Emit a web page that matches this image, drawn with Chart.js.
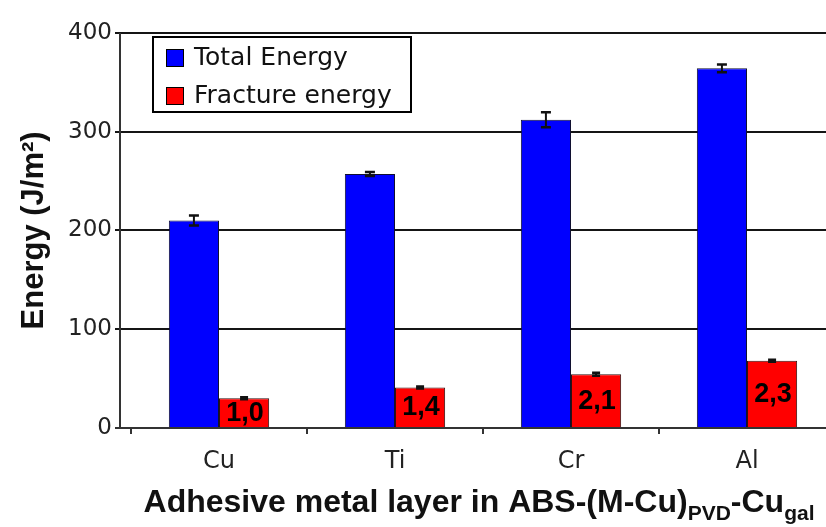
<!DOCTYPE html>
<html>
<head>
<meta charset="utf-8">
<script src="https://cdn.jsdelivr.net/npm/chart.js@4.4.1/dist/chart.umd.min.js"></script>
<style>
  html, body { margin: 0; padding: 0; background: #fff; overflow: hidden; }
  #wrap { position: relative; width: 826px; height: 527px; overflow: hidden; }
  canvas { position: absolute; left: 0; top: 0; }
</style>
</head>
<body>
<div id="wrap"><canvas id="c" width="845" height="527"></canvas></div>
<script>
// Adhesive metal layers and measured energies (J/m²)
const metals = ['Cu', 'Ti', 'Cr', 'Al'];
const totalEnergy = [210, 257, 312, 364];
const totalEnergyErr = [5, 2, 7.5, 4];
const fractureEnergy = [30, 41, 54.5, 68];
const fractureEnergyErr = [1, 1, 1.5, 1];
const fractureRatio = ['1,0', '1,4', '2,1', '2,3'];
const yTicks = [0, 100, 200, 300, 400];

const REG = '"DejaVu Sans", sans-serif';
const BOLD = '"Liberation Sans", Arial, sans-serif';

// gridlines, axis frame, error bars, in-bar labels, legend and x title
const decor = {
  id: 'decor',
  beforeDatasetsDraw(chart) {
    const { ctx, chartArea, scales: { y } } = chart;
    const axisX = chartArea.left - 11;
    ctx.save();
    ctx.lineWidth = 2;
    ctx.strokeStyle = '#151515';
    yTicks.slice(1).forEach(v => {
      const py = Math.round(y.getPixelForValue(v));
      ctx.beginPath();
      ctx.moveTo(axisX - 5, py);
      ctx.lineTo(chart.width, py);
      ctx.stroke();
    });
    ctx.restore();
  },
  afterDatasetsDraw(chart) {
    const { ctx, chartArea, scales: { y } } = chart;
    const axisX = chartArea.left - 11;
    ctx.save();
    // axes
    ctx.lineWidth = 2;
    ctx.strokeStyle = '#333';
    const y0 = Math.round(y.getPixelForValue(0));
    ctx.beginPath();
    ctx.moveTo(axisX - 5, y0);
    ctx.lineTo(chart.width, y0);
    ctx.stroke();
    ctx.beginPath();
    ctx.moveTo(axisX, Math.round(y.getPixelForValue(yTicks[yTicks.length - 1])));
    ctx.lineTo(axisX, y0);
    ctx.stroke();

    // error bars
    chart.data.datasets.forEach((ds, i) => {
      const meta = chart.getDatasetMeta(i);
      const half = i === 0 ? 5 : 4;
      ctx.strokeStyle = '#111';
      meta.data.forEach((el, j) => {
        const v = ds.data[j], e = ds.errors[j];
        const top = y.getPixelForValue(v + e), bot = y.getPixelForValue(v - e);
        ctx.lineWidth = 2;
        ctx.beginPath();
        ctx.moveTo(el.x, top); ctx.lineTo(el.x, bot);
        ctx.stroke();
        ctx.lineWidth = 2.5;
        ctx.beginPath();
        ctx.moveTo(el.x - half, top); ctx.lineTo(el.x + half, top);
        ctx.moveTo(el.x - half, bot); ctx.lineTo(el.x + half, bot);
        ctx.stroke();
      });
      if (ds.valueLabels) {
        ctx.fillStyle = '#000';
        ctx.font = 'bold 27px ' + BOLD;
        ctx.textAlign = 'center';
        ctx.textBaseline = 'middle';
        meta.data.forEach((el, j) => {
          ctx.fillText(ds.valueLabels[j], el.x + 1, (el.y + el.base) / 2);
        });
      }
    });
    ctx.restore();
  },
  afterDraw(chart) {
    const { ctx, chartArea } = chart;
    ctx.save();
    // legend box
    const lx = 153, ly = 37, lw = 258, lh = 75;
    ctx.fillStyle = '#fff';
    ctx.fillRect(lx, ly, lw, lh);
    ctx.lineWidth = 2;
    ctx.strokeStyle = '#000';
    ctx.strokeRect(lx, ly, lw, lh);
    chart.data.datasets.forEach((ds, i) => {
      const sy = ly + 12 + i * 38;
      ctx.fillStyle = ds.backgroundColor;
      ctx.fillRect(lx + 13, sy, 18, 18);
      ctx.lineWidth = 1;
      ctx.strokeStyle = '#000';
      ctx.strokeRect(lx + 13.5, sy + 0.5, 17, 17);
      ctx.fillStyle = '#111';
      ctx.font = '25px ' + REG;
      ctx.textAlign = 'left';
      ctx.textBaseline = 'middle';
      ctx.fillText(ds.label, lx + 41, sy + 9);
    });

    // x axis title with subscripts
    const parts = [
      { t: 'Adhesive metal layer in ABS-(M-Cu)', s: 32, dy: 0 },
      { t: 'PVD', s: 21, dy: 8 },
      { t: '-Cu', s: 32, dy: 0 },
      { t: 'gal', s: 21, dy: 8 }
    ];
    let total = 0;
    parts.forEach(p => { ctx.font = 'bold ' + p.s + 'px ' + BOLD; p.w = ctx.measureText(p.t).width; total += p.w; });
    let x = (chartArea.left + chartArea.right) / 2 - 4 - total / 2;
    const base = 512;
    ctx.fillStyle = '#111';
    ctx.textAlign = 'left';
    ctx.textBaseline = 'alphabetic';
    parts.forEach(p => {
      ctx.font = 'bold ' + p.s + 'px ' + BOLD;
      ctx.fillText(p.t, x, base + p.dy);
      x += p.w;
    });
    ctx.restore();
  }
};

new Chart(document.getElementById('c'), {
  type: 'bar',
  data: {
    labels: metals,
    datasets: [
      {
        label: 'Total Energy',
        data: totalEnergy,
        errors: totalEnergyErr,
        backgroundColor: '#0000ff',
        borderColor: '#101030',
        borderWidth: 1,
        categoryPercentage: 0.57,
        barPercentage: 1
      },
      {
        label: 'Fracture energy',
        data: fractureEnergy,
        errors: fractureEnergyErr,
        valueLabels: fractureRatio,
        backgroundColor: '#ff0000',
        borderColor: '#301010',
        borderWidth: 1,
        categoryPercentage: 0.57,
        barPercentage: 1
      }
    ]
  },
  options: {
    responsive: false,
    animation: false,
    layout: { padding: { left: 0, top: 22, right: 10, bottom: 0 } },
    plugins: { legend: { display: false }, tooltip: { enabled: false } },
    scales: {
      x: {
        afterFit(scale) { scale.height = 99; },
        grid: { display: true, drawOnChartArea: false, drawTicks: true, tickLength: 6, color: '#333', lineWidth: 2 },
        border: { display: false },
        ticks: { font: { family: REG, size: 24 }, color: '#222', padding: 13 }
      },
      y: {
        min: 0,
        max: 400,
        afterFit(scale) { scale.width = 131; },
        grid: { display: false, drawTicks: false },
        border: { display: false },
        ticks: { stepSize: 100, font: { family: REG, size: 23 }, color: '#222', padding: 19 },
        title: {
          display: true,
          text: 'Energy (J/m²)',
          font: { family: BOLD, size: 31, weight: 'bold' },
          color: '#111',
          padding: { top: 16, bottom: 0 }
        }
      }
    }
  },
  plugins: [decor]
});
</script>
</body>
</html>
